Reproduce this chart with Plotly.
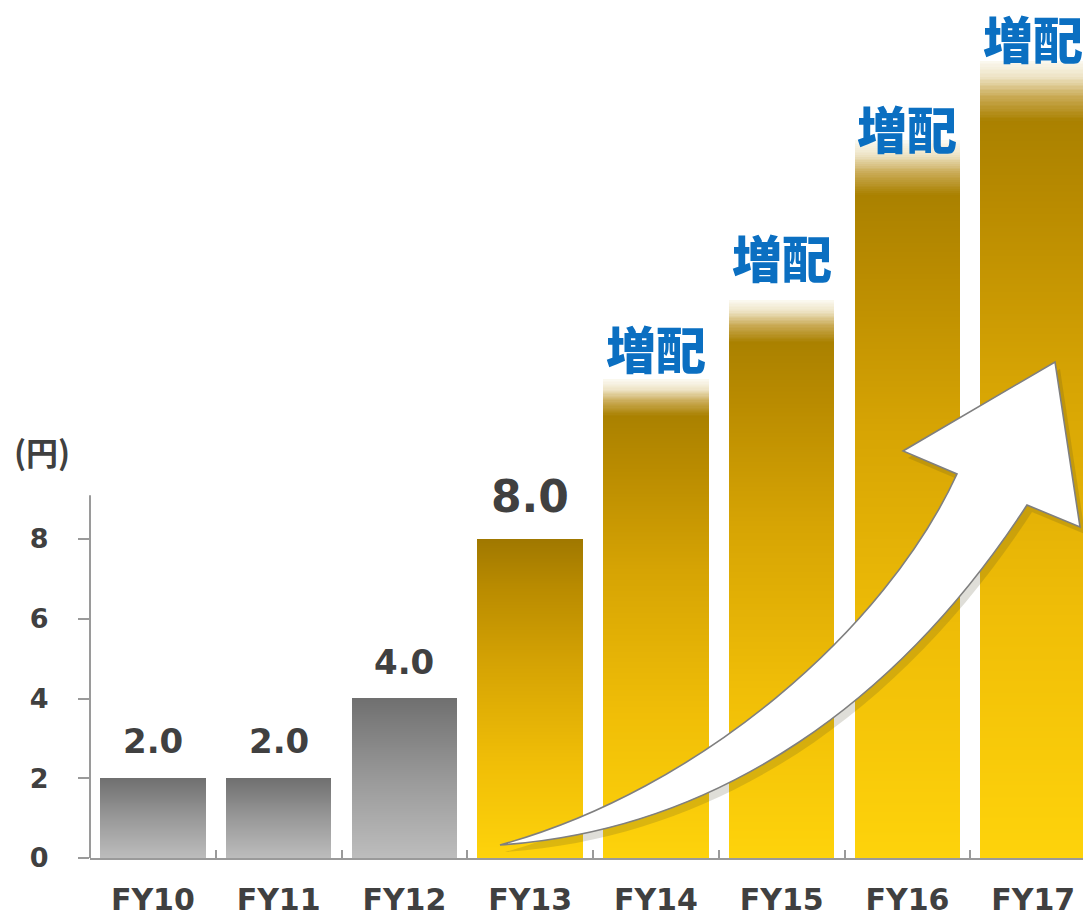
import plotly.graph_objects as go

# ---------------- data ----------------
categories = ["FY10", "FY11", "FY12", "FY13", "FY14", "FY15", "FY16", "FY17"]
dividends = [2.0, 2.0, 4.0, 8.0, 12.0, 14.0, 18.0, 20.0]
value_labels = ["2.0", "2.0", "4.0", "8.0", "", "", "", ""]
increase_labels = ["", "", "", "", "増配", "増配", "増配", "増配"]
y_ticks = [0, 2, 4, 6, 8]
unit_label = "(円)"

# ---------------- styles ----------------
bar_style = ["gray", "gray", "gray", "gold", "gold_fade", "gold_fade", "gold_fade", "gold_fade"]
value_label_size = [34, 34, 34, 44, 0, 0, 0, 0]
value_label_shift = [37, 37, 37, 43, 0, 0, 0, 0]
increase_label_shift = [0, 0, 0, 0, 33, 44, 13, 24]

SCALES = {
    "gray": [(0.0, "#bdbdbd"), (0.5, "#999999"), (1.0, "#707070")],
    "gold": [(0.0, "#fed30b"), (0.3, "#f0be07"), (0.6, "#d6a404"), (0.85, "#b98b00"), (1.0, "#a07800")],
    "gold_fade": [(0.0, "#fed30b"), (0.3, "#f0be07"), (0.6, "#d6a404"), (0.82, "#b98b00"),
                  (0.925, "#aa8100"), (0.955, "#c9aa55"), (0.98, "#eee4c6"), (1.0, "#fbf9f1")],
}


def hex2rgb(h):
    h = h.lstrip("#")
    return [int(h[i:i + 2], 16) for i in (0, 2, 4)]


def interp(scale, t):
    for (t0, c0), (t1, c1) in zip(scale[:-1], scale[1:]):
        if t <= t1:
            f = 0 if t1 == t0 else (t - t0) / (t1 - t0)
            a, b = hex2rgb(c0), hex2rgb(c1)
            r = [round(a[i] + (b[i] - a[i]) * f) for i in range(3)]
            return "rgb(%d,%d,%d)" % tuple(r)
    return scale[-1][1]


TEXT = "#404040"
AXIS = "#9a9a9a"
NUM_FONT = "DejaVu Sans"
CJK_FONT = "Noto Sans CJK JP"

# page offset (body margin) and target geometry in screenshot pixels
OFF = 8
W, H = 1091 - OFF, 919 - OFF
IMG_L, IMG_R, IMG_T, IMG_B = 90, 1091, OFF, 858     # plot area in screenshot pixels
PX_PER_UNIT = 39.875
Y_TOP = (IMG_B - IMG_T) / PX_PER_UNIT

fig = go.Figure()

# gradient bars built as thin stacked slices of each value
N = 400
for k in range(N):
    t = (k + 0.5) / N
    fig.add_trace(go.Bar(
        x=categories,
        y=[v / N for v in dividends],
        marker=dict(color=[interp(SCALES[s], t) for s in bar_style], line=dict(width=0)),
        width=0.84,
        hoverinfo="skip",
        showlegend=False,
    ))

annotations = []
for i, (c, v) in enumerate(zip(categories, dividends)):
    if value_labels[i]:
        annotations.append(dict(
            x=c, y=v, xref="x", yref="y", text=value_labels[i], showarrow=False,
            yanchor="middle", yshift=value_label_shift[i],
            font=dict(family=NUM_FONT, size=value_label_size[i], color=TEXT, weight="bold"),
        ))
    if increase_labels[i]:
        annotations.append(dict(
            x=c, y=v, xref="x", yref="y", text=increase_labels[i], showarrow=False,
            yanchor="middle", yshift=increase_label_shift[i], borderpad=0,
            font=dict(family=CJK_FONT, size=50, color="#0b6fc1", weight=900),
        ))


def PXX(x):
    return (x - IMG_L) / (IMG_R - IMG_L)


def PXY(y):
    return (IMG_B - y) / (IMG_B - IMG_T)


annotations.append(dict(
    x=PXX(42), y=PXY(451), xref="paper", yref="paper", text=unit_label, showarrow=False,
    xanchor="center", yanchor="middle",
    font=dict(family=CJK_FONT, size=32, color=TEXT, weight="bold"),
))


def P(x, y):
    return "%.5f,%.5f" % (PXX(x), PXY(y))


def arrow_path(dx=0, dy=0):
    pts = lambda x, y: P(x + dx, y + dy)
    return ("M" + pts(500, 845)
            + " C" + pts(700, 790) + " " + pts(885, 630) + " " + pts(957, 474)
            + " L" + pts(903, 451)
            + " L" + pts(1055, 362)
            + " L" + pts(1080, 527)
            + " L" + pts(1027, 505)
            + " C" + pts(900, 700) + " " + pts(720, 830) + " " + pts(500, 845)
            + " Z")


shapes = [
    dict(type="path", xref="paper", yref="paper", path=arrow_path(5, 7),
         fillcolor="rgba(80,70,40,0.18)", line=dict(width=0), layer="above"),
    dict(type="path", xref="paper", yref="paper", path=arrow_path(),
         fillcolor="white", line=dict(color="#7f7f7f", width=1.6), layer="above"),
    dict(type="line", xref="paper", yref="y", x0=0, x1=0, y0=0, y1=9.1,
         line=dict(color=AXIS, width=2), layer="above"),
]

fig.update_layout(
    width=W, height=H,
    margin=dict(l=IMG_L - OFF, r=0, t=0, b=919 - IMG_B),
    paper_bgcolor="white", plot_bgcolor="white",
    barmode="stack", bargap=0,
    annotations=annotations,
    shapes=shapes,
    xaxis=dict(
        type="category", categoryorder="array", categoryarray=categories,
        range=[-0.5, 7.46], tickson="boundaries", ticks="inside", ticklen=8,
        tickcolor=AXIS, tickwidth=2, showline=True, linecolor=AXIS, linewidth=2,
        showgrid=False, zeroline=False, automargin=False, ticklabelstandoff=14,
        tickfont=dict(family=NUM_FONT, size=30, color=TEXT, weight="bold"),
    ),
    yaxis=dict(
        range=[0, Y_TOP], tickmode="array", tickvals=y_ticks,
        ticks="outside", ticklen=11, tickcolor=AXIS, tickwidth=2,
        showline=False, showgrid=False, zeroline=False, automargin=False,
        ticklabelstandoff=24,
        tickfont=dict(family=NUM_FONT, size=27, color=TEXT, weight="bold"),
    ),
)

fig.write_html("out.html")
